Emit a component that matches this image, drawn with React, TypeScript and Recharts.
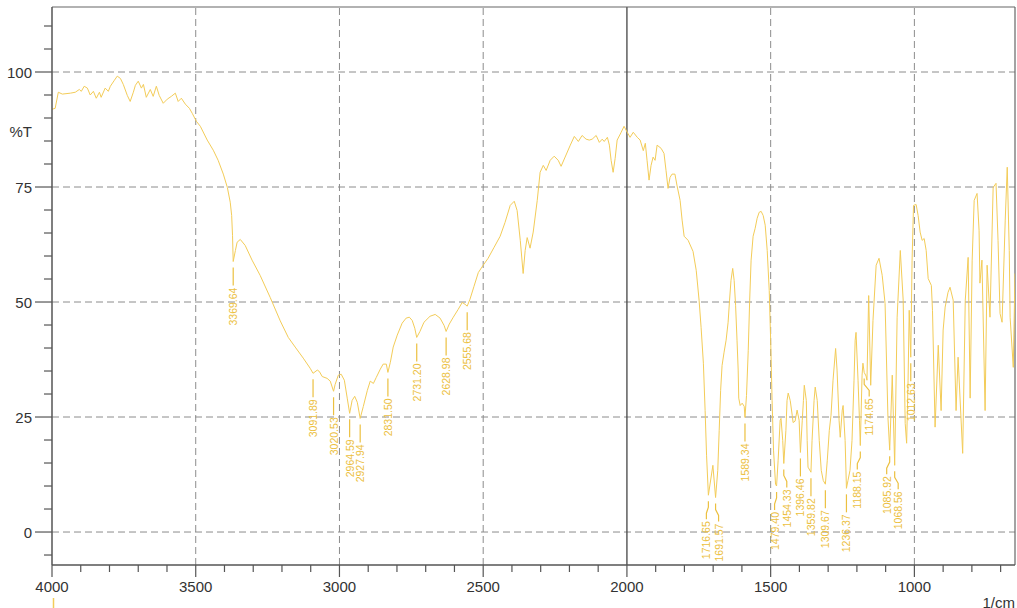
import React from 'react';
import { ComposedChart, Line, Scatter, XAxis, YAxis, ReferenceLine } from 'recharts';

const W = 1017;
const H = 608;
const X_MIN = 650;
const X_MAX = 4000;
const Y_MIN = -7.17;
const Y_MAX = 114.13;

// [wavenumber (1/cm), %T]
const spectrum4000to3500: [number, number][] = [
  [4000, 91.9], [3989, 92.1], [3978, 95.6], [3964, 95.2], [3936, 95.4], [3919, 95.6], [3905, 96.2], [3898, 95.8],
  [3888, 96.9], [3877, 96.5], [3867, 95.0], [3856, 95.8], [3846, 94.3], [3835, 95.6], [3829, 94.5], [3815, 96.5],
  [3804, 95.8], [3797, 96.9], [3783, 98.2], [3773, 99.1], [3762, 98.6], [3752, 97.3], [3738, 94.9], [3728, 93.6],
  [3717, 95.6], [3710, 97.1], [3700, 98.0], [3689, 96.5], [3682, 97.3], [3672, 94.5], [3658, 96.2], [3648, 94.7],
  [3637, 96.9], [3627, 94.9], [3613, 93.2], [3599, 94.1], [3585, 94.7], [3571, 95.4], [3561, 93.6], [3550, 94.3],
  [3536, 93.0], [3522, 92.1], [3512, 91.0],
];

const spectrum3500to2500: [number, number][] = [
  [3498, 89.3], [3484, 88.2], [3460, 85.2], [3439, 83.0], [3422, 80.8], [3404, 77.8], [3390, 74.9], [3380, 71.7],
  [3375, 68.8], [3372, 64.5], [3369.64, 58.8], [3362, 61.2], [3356, 63.0], [3345, 63.6], [3328, 62.3], [3304, 59.1],
  [3276, 55.8], [3241, 51.0], [3206, 45.9], [3178, 42.3], [3154, 40.2], [3126, 37.8], [3102, 35.6], [3091.89, 34.5],
  [3077, 35.2], [3070, 34.9], [3060, 33.8], [3043, 33.4], [3032, 32.8], [3020.53, 30.6], [3015, 32.1], [3004, 34.1],
  [2994, 34.3], [2983, 33.0], [2973, 29.1], [2964.59, 25.8], [2956, 28.6], [2947, 29.5], [2938, 28.2], [2927.94, 24.7],
  [2917, 27.3], [2903, 30.8], [2893, 32.8], [2882, 32.3], [2872, 33.6], [2858, 35.4], [2848, 36.5], [2837, 36.5],
  [2831.5, 34.7], [2823, 36.9], [2813, 40.2], [2799, 42.8], [2782, 45.4], [2768, 46.5], [2757, 46.7], [2747, 46.0],
  [2738, 44.3], [2731.2, 42.3], [2720, 43.6], [2706, 45.6], [2685, 46.9], [2667, 47.3], [2650, 46.5], [2636, 44.9],
  [2628.98, 43.6], [2618, 45.2], [2604, 46.7], [2587, 48.4], [2573, 49.9], [2563, 49.5], [2555.68, 49.1], [2546, 50.6],
  [2532, 53.4], [2517, 56.4],
];

const spectrum2500to2000: [number, number][] = [
  [2500, 58.0], [2483, 59.5], [2462, 61.9], [2441, 64.3], [2424, 67.3], [2406, 71.0], [2392, 71.9], [2382, 69.9],
  [2371, 63.4], [2361, 56.2], [2354, 61.2], [2347, 64.0], [2337, 61.7], [2326, 65.2], [2312, 72.1], [2302, 78.2],
  [2291, 79.7], [2281, 78.6], [2267, 80.8], [2253, 81.7], [2239, 80.8], [2229, 79.5], [2215, 81.5], [2197, 84.1],
  [2183, 86.0], [2169, 84.9], [2156, 86.2], [2142, 85.4], [2131, 85.2], [2121, 85.4], [2107, 86.2], [2096, 84.7],
  [2086, 85.4], [2079, 84.9], [2068, 85.8], [2061, 84.1], [2055, 80.8], [2048, 78.2], [2041, 81.2], [2034, 85.2],
  [2020, 86.9], [2010, 88.2],
];

const spectrum2000to1500: [number, number][] = [
  [1999, 86.9], [1989, 85.8], [1978, 86.9], [1964, 85.8], [1954, 85.2], [1943, 82.9], [1936, 84.5], [1930, 80.8],
  [1923, 76.5], [1916, 79.7], [1909, 81.5], [1902, 80.8], [1895, 84.1], [1881, 83.4], [1871, 82.3], [1864, 78.6],
  [1857, 74.7], [1850, 77.1], [1843, 77.8], [1833, 77.8], [1826, 75.4], [1815, 72.1], [1808, 67.8], [1801, 64.3],
  [1787, 63.4], [1770, 61.0], [1759, 56.9], [1749, 50.4], [1742, 44.5], [1734, 36.7], [1728, 26.4], [1723, 16.7],
  [1716.65, 8.0], [1701, 14.5], [1691.57, 7.5], [1684, 13.4], [1679, 22.1], [1674, 30.8], [1669, 36.2], [1662, 39.1],
  [1655, 41.7], [1648, 45.6], [1643, 50.4], [1638, 54.7], [1632, 57.3], [1627, 54.7], [1622, 49.3], [1617, 41.7],
  [1613, 35.2], [1611, 29.1], [1606, 27.5], [1599, 28.0], [1592, 27.3], [1589.34, 24.9], [1584, 29.7], [1578, 39.5],
  [1573, 50.4], [1568, 59.1], [1561, 64.3], [1554, 66.0], [1547, 68.2], [1540, 69.5], [1533, 69.7], [1526, 68.8],
  [1519, 66.7], [1512, 61.2], [1505, 52.5],
];

const spectrum1500to650: [number, number][] = [
  [1500, 41.7], [1495, 28.6], [1490, 17.8], [1483, 10.4], [1479.4, 10.0], [1474, 15.6], [1467, 24.3], [1464, 24.7],
  [1458, 19.9], [1454.33, 14.9], [1447, 22.1], [1443, 28.6], [1439, 30.2], [1432, 28.6], [1425, 25.4], [1422, 23.8],
  [1415, 24.1], [1408, 26.5], [1401, 24.3], [1396.46, 17.3], [1390, 24.3], [1386, 28.6], [1383, 31.9], [1376, 28.6],
  [1373, 19.9], [1370, 14.1], [1359.82, 13.0], [1356, 19.9], [1349, 28.6], [1345, 31.5], [1338, 28.6], [1331, 19.9],
  [1324, 13.4], [1317, 11.2], [1309.67, 10.4], [1303, 15.6], [1296, 22.1], [1290, 25.4], [1283, 33.0], [1274, 39.9],
  [1269, 35.2], [1262, 24.3], [1258, 20.6], [1251, 26.5], [1248, 27.5], [1241, 19.9], [1236.37, 9.5], [1231, 11.2],
  [1224, 13.4], [1217, 19.9], [1210, 33.0], [1206, 41.7], [1203, 43.4], [1196, 33.0], [1191, 24.3], [1188.15, 18.8],
  [1182, 34.1], [1179, 36.7], [1174.65, 34.7], [1168, 33.9], [1165, 33.0], [1159, 51.4], [1152, 31.9], [1144, 46.0],
  [1133, 58.0], [1123, 59.5], [1112, 55.8], [1102, 49.7], [1092, 24.9], [1085.92, 17.8], [1077, 34.1], [1068.56, 14.5],
  [1060, 46.7], [1049, 61.2], [1039, 50.4], [1032, 23.6], [1027, 19.3], [1022, 33.0], [1018, 48.2], [1012.63, 38.0],
  [1008, 59.1], [1003, 71.0], [994, 71.2], [987, 68.8], [980, 65.2], [973, 63.4], [966, 63.8], [959, 61.2],
  [952, 55.1], [941, 53.6], [937, 48.2], [928, 22.8], [917, 40.6], [907, 26.4], [900, 43.9], [893, 48.9],
  [883, 52.1], [876, 53.2], [865, 50.4], [855, 26.4], [848, 38.0], [832, 17.1], [823, 50.4], [813, 59.7],
  [806, 29.1], [799, 59.1], [792, 72.1], [782, 73.6], [775, 65.6], [772, 54.1], [765, 59.1], [754, 26.4],
  [747, 58.0], [737, 46.7], [726, 74.9], [716, 75.8], [709, 63.4], [702, 47.5], [695, 45.6], [684, 67.8],
  [677, 79.3], [670, 61.2], [667, 46.7], [656, 35.8], [650, 56.2],
];

const peakWavenumbers = [
  3369.64, 3091.89, 3020.53, 2964.59, 2927.94, 2831.5, 2731.2, 2628.98, 2555.68,
  1716.65, 1691.57, 1589.34, 1479.4, 1454.33, 1396.46, 1359.82, 1309.67, 1236.37,
  1188.15, 1174.65, 1085.92, 1068.56, 1012.63,
];
const peakTransmittance = [
  58.8, 34.5, 30.6, 25.8, 24.7, 34.7, 42.3, 43.6, 49.1,
  8.0, 7.5, 24.9, 10.0, 14.9, 17.3, 13.0, 10.4, 9.5,
  18.8, 34.7, 17.8, 14.5, 38.0,
];

const xTickValues = [4000, 3900, 3800, 3700, 3600, 3500, 3400, 3300, 3200, 3100, 3000, 2900, 2800, 2700, 2600, 2500,
  2400, 2300, 2200, 2100, 2000, 1900, 1800, 1700, 1600, 1500, 1400, 1300, 1200, 1100, 1000, 900, 800, 700];
const xLabelledTicks = [4000, 3500, 3000, 2500, 2000, 1500, 1000];
const yTickValues = [110, 105, 100, 95, 90, 85, 80, 75, 70, 65, 60, 55, 50, 45, 40, 35, 30, 25, 20, 15, 10, 5, 0, -5];
const yLabelledTicks = [100, 75, 50, 25, 0];
const gridWavenumbers = [3500, 3000, 2500, 1500, 1000];
const cursorWavenumber = 2000;
const gridTransmittance = [100, 75, 50, 25, 0];

// layout only: horizontal pixel nudges for crowded peak labels
const labelNudge: Record<string, number> = {
  '1716.65': -2, '1691.57': 3, '1479.40': -2, '1454.33': 3,
  '1188.15': -3, '1174.65': 5, '1085.92': -3, '1068.56': 3.5,
};

const spectrum = [
  ...spectrum4000to3500, ...spectrum3500to2500, ...spectrum2500to2000, ...spectrum2000to1500, ...spectrum1500to650,
].map(([wn, t]) => ({ wn, t }));

const peaks = peakWavenumbers.map((wn, i) => ({ wn, t: peakTransmittance[i], label: wn.toFixed(2) }));

const FONT = '"Liberation Sans", Arial, sans-serif';
const AXIS = '#555555';
const TEXT = '#333333';
const CURVE = '#f3cc58';
const PEAK = '#ecc040';
const GRID = '#8c8c8c';

function XTick(props: any) {
  const { x, y, payload } = props;
  const v = payload.value;
  const major = xLabelledTicks.includes(v);
  return (
    <g>
      <line x1={x} x2={x} y1={y} y2={y + (major ? 12 : 7)} stroke={AXIS} strokeWidth={1.2} />
      {major && (
        <text x={x} y={y + 27} textAnchor="middle" fontSize={15} fontFamily={FONT} fill={TEXT}>{v}</text>
      )}
      {v === 4000 && <line x1={x + 1.5} x2={x + 1.5} y1={y + 33} y2={y + 45} stroke={CURVE} strokeWidth={1.5} />}
    </g>
  );
}

function YTick(props: any) {
  const { x, y, payload } = props;
  const v = payload.value;
  const major = yLabelledTicks.includes(v);
  return (
    <g>
      <line x1={x - (major ? 17 : 8)} x2={x} y1={y} y2={y} stroke={AXIS} strokeWidth={1.2} />
      {major && (
        <text x={x - 20} y={y + 5.5} textAnchor="end" fontSize={15} fontFamily={FONT} fill={TEXT}>{v}</text>
      )}
    </g>
  );
}

function PeakLabel(props: any) {
  const { cx, cy, payload } = props;
  if (cx == null || cy == null) return <g />;
  const dx = labelNudge[payload.label] ?? 0;
  const lx = cx + dx;
  const top = cy + 26;
  const pts = dx === 0
    ? `${cx},${cy + 6} ${cx},${cy + 24}`
    : `${cx},${cy + 6} ${cx},${cy + 12} ${lx},${cy + 18} ${lx},${cy + 24}`;
  return (
    <g>
      <polyline points={pts} fill="none" stroke={PEAK} strokeWidth={1.2} />
      <text
        x={lx}
        y={top}
        transform={`rotate(-90 ${lx} ${top})`}
        textAnchor="end"
        dominantBaseline="central"
        fontSize={10.5}
        fontFamily={FONT}
        fill={PEAK}
      >
        {payload.label}
      </text>
    </g>
  );
}

export default function App() {
  return (
    <div style={{ position: 'absolute', left: 0, top: 0, width: W, height: H, background: '#ffffff' }}>
      <ComposedChart width={W} height={H} margin={{ top: 7, right: 2, bottom: 0, left: 0 }}>
        <XAxis
          dataKey="wn"
          type="number"
          domain={[X_MIN, X_MAX]}
          reversed
          allowDataOverflow
          ticks={xTickValues}
          interval={0}
          height={43}
          tickSize={0}
          tickMargin={0}
          tickLine={false}
          axisLine={{ stroke: AXIS, strokeWidth: 1.5 }}
          tick={<XTick />}
        />
        <YAxis
          dataKey="t"
          type="number"
          domain={[Y_MIN, Y_MAX]}
          allowDataOverflow
          ticks={yTickValues}
          interval={0}
          width={52}
          tickSize={0}
          tickMargin={0}
          tickLine={false}
          axisLine={{ stroke: AXIS, strokeWidth: 1.5 }}
          tick={<YTick />}
        />
        {gridTransmittance.map((v) => (
          <ReferenceLine key={'gy' + v} y={v} stroke={GRID} strokeDasharray="7 4" strokeWidth={1} />
        ))}
        {gridWavenumbers.map((v) => (
          <ReferenceLine key={'gx' + v} x={v} stroke={GRID} strokeDasharray="7 4" strokeWidth={1} />
        ))}
        <ReferenceLine x={cursorWavenumber} stroke="#444444" strokeWidth={1.3} />
        <ReferenceLine y={Y_MAX} stroke="#666666" strokeWidth={1.2} />
        <ReferenceLine x={X_MIN} stroke="#666666" strokeWidth={1.2} />
        <Line
          data={spectrum}
          dataKey="t"
          type="linear"
          stroke={CURVE}
          strokeWidth={1}
          dot={false}
          activeDot={false}
          isAnimationActive={false}
        />
        <Scatter data={peaks} dataKey="t" shape={<PeakLabel />} isAnimationActive={false} />
      </ComposedChart>
      <svg width={W} height={H} style={{ position: 'absolute', left: 0, top: 0, pointerEvents: 'none' }}>
        <text x={32} y={137} textAnchor="end" fontSize={15} fontFamily={FONT} fill={TEXT}>%T</text>
        <text x={1015} y={608} textAnchor="end" fontSize={15} fontFamily={FONT} fill={TEXT}>1/cm</text>
      </svg>
    </div>
  );
}
